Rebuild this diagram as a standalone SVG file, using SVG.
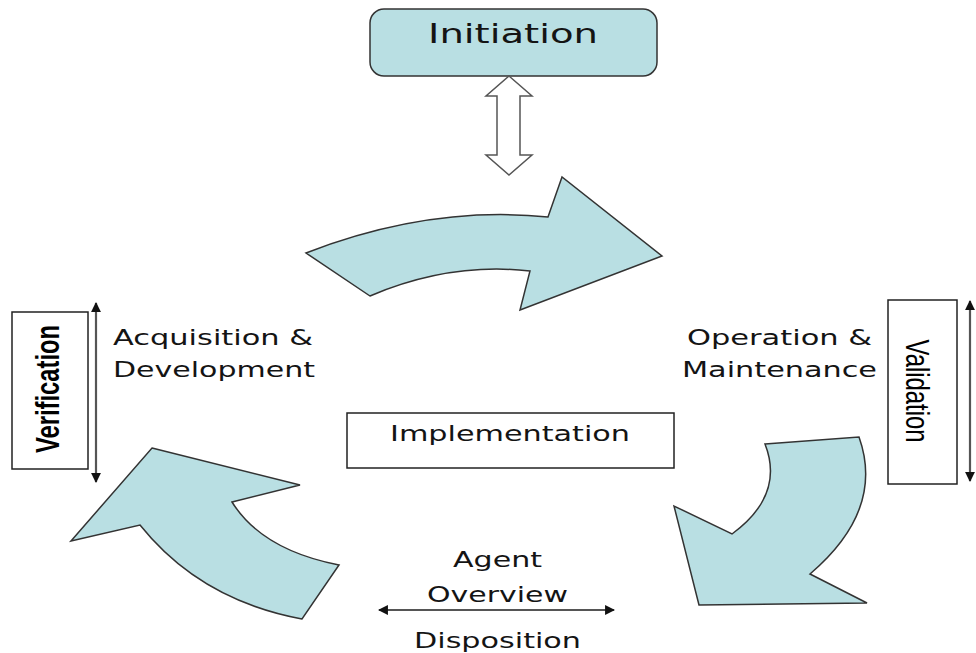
<svg xmlns="http://www.w3.org/2000/svg" width="976" height="653" viewBox="0 0 976 653">
<defs>
<style>
.t{font-family:"DejaVu Sans","Verdana",sans-serif;fill:#141414;}
.cyc{fill:#b9dfe3;stroke:#333;stroke-width:1.5;stroke-linejoin:miter;}
.box{fill:#fff;stroke:#222;stroke-width:1.5;}
.dbl{stroke:#555;stroke-width:2.2;fill:none;}
.rot{font-family:"Liberation Sans","Arial Narrow",sans-serif;fill:#000;}
</style>
<marker id="ah" viewBox="0 0 10 10" refX="9" refY="5" markerWidth="4.5" markerHeight="4.5" orient="auto-start-reverse" markerUnits="strokeWidth">
<path d="M0,0 L10,5 L0,10 Z" fill="#111"/>
</marker>
</defs>
<rect width="976" height="653" fill="#fff"/>

<g id="initiation">
<rect x="370" y="9" width="287" height="67" rx="14" ry="14" fill="#b9dfe3" stroke="#333" stroke-width="1.5"/>
<text class="t" x="428" y="43" font-size="27" textLength="170" lengthAdjust="spacingAndGlyphs">Initiation</text>
</g>

<g id="init-arrow">
<path d="M509,76 L532,96 L520,96 L520,155 L532,155 L509,175 L486,155 L497,155 L497,96 L486,96 Z" fill="#fff" stroke="#555" stroke-width="1.5"/>
</g>

<g id="arrow-top">
<path class="cyc" d="M306,253 Q430,205 548,217 L562,177 L662,256 L520,310 L530,271 Q450,262 370,296 Z"/>
</g>

<g id="arrow-right">
<path class="cyc" d="M765,444 L859,437 Q885,510 810,574 L867,603 L699,605 L674,506 L732,534 Q785,495 765,444 Z"/>
</g>

<g id="arrow-left">
<path class="cyc" d="M152,448 L300,485 L232,502 Q262,550 339,565 L302,619 Q200,600 140,525 L71,541 Z"/>
</g>

<g id="verification">
<rect class="box" x="12" y="312" width="76" height="157"/>
<text class="rot" font-weight="bold" font-size="33" text-anchor="middle" transform="translate(59,389) rotate(-90)" textLength="128" lengthAdjust="spacingAndGlyphs">Verification</text>
</g>

<g id="validation">
<rect class="box" x="888" y="300" width="69" height="184"/>
<text class="rot" font-size="33" text-anchor="middle" transform="translate(906,391) rotate(90)" textLength="103" lengthAdjust="spacingAndGlyphs">Validation</text>
</g>

<g id="implementation">
<rect class="box" x="347" y="413" width="327" height="55"/>
<text class="t" x="390" y="441" font-size="21" textLength="240" lengthAdjust="spacingAndGlyphs">Implementation</text>
</g>

<g id="acquisition">
<text class="t" x="113" y="345" font-size="21" textLength="200" lengthAdjust="spacingAndGlyphs">Acquisition &amp;</text>
<text class="t" x="113" y="377" font-size="21" textLength="202" lengthAdjust="spacingAndGlyphs">Development</text>
</g>

<g id="operation">
<text class="t" x="687" y="345" font-size="21" textLength="185" lengthAdjust="spacingAndGlyphs">Operation &amp;</text>
<text class="t" x="682" y="377" font-size="21" textLength="195" lengthAdjust="spacingAndGlyphs">Maintenance</text>
</g>

<g id="agent-overview">
<text class="t" x="453" y="567" font-size="21" textLength="89" lengthAdjust="spacingAndGlyphs">Agent</text>
<text class="t" x="427" y="602" font-size="21" textLength="141" lengthAdjust="spacingAndGlyphs">Overview</text>
</g>

<g id="disposition">
<text class="t" x="414" y="648" font-size="21" textLength="167" lengthAdjust="spacingAndGlyphs">Disposition</text>
</g>

<g id="connectors">
<line class="dbl" x1="96" y1="303" x2="96" y2="482" marker-start="url(#ah)" marker-end="url(#ah)"/>
<line class="dbl" x1="970" y1="301" x2="970" y2="481" marker-start="url(#ah)" marker-end="url(#ah)"/>
<line class="dbl" x1="379" y1="610" x2="614" y2="610" marker-start="url(#ah)" marker-end="url(#ah)"/>
</g>
</svg>
